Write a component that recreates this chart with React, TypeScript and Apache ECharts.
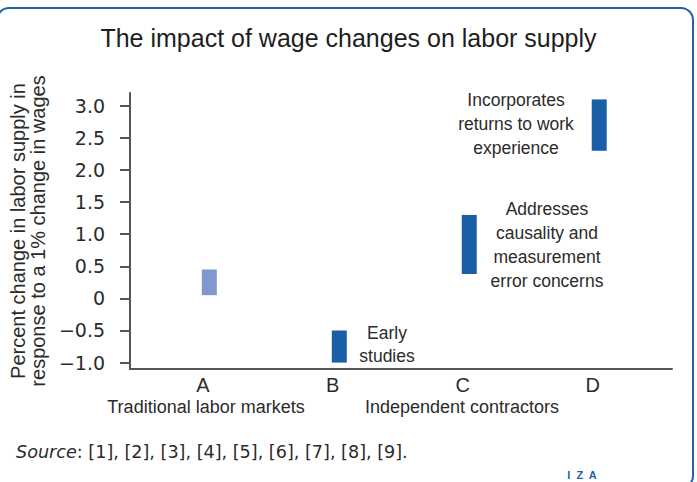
import React, { useEffect, useRef } from "react";
import * as echarts from "echarts";

const categories = ["A", "B", "C", "D"];
const lowValues = [0.05, -1.0, 0.38, 2.3];
const highValues = [0.45, -0.5, 1.3, 3.1];
const yTicks = [-1.0, -0.5, 0, 0.5, 1.0, 1.5, 2.0, 2.5, 3.0];
const groupLabels = ["Traditional labor markets", "Independent contractors"];
const notes = [
  "Early\nstudies",
  "Addresses\ncausality and\nmeasurement\nerror concerns",
  "Incorporates\nreturns to work\nexperience",
];

const FONT = "Liberation Sans";
const WIDE = "DejaVu Sans";
const LIGHT = "#7f98cf";
const DARK = "#1a5ea8";
const TEXT = "#2b2b2b";

export default function App() {
  const ref = useRef<HTMLDivElement>(null);
  useEffect(() => {
    if (!ref.current) return;
    const chart = echarts.init(ref.current, null, { renderer: "svg" });
    const data = categories.map((c, i) => [i + 1, lowValues[i], highValues[i]]);
    chart.setOption({
      animation: false,
      textStyle: { fontFamily: FONT },
      title: {
        text: "The impact of wage changes on labor supply",
        left: "center",
        top: 20,
        textStyle: { fontFamily: FONT, fontSize: 25, fontWeight: "normal", color: "#1e1e1e" },
      },
      grid: { left: 129, top: 93, right: 25, bottom: 113 },
      xAxis: {
        type: "value",
        min: 0.44,
        max: 4.61,
        splitLine: { show: false },
        axisLine: { show: true, onZero: false, lineStyle: { color: "#555", width: 2 } },
        axisTick: { show: false },
        axisLabel: {
          customValues: [1, 2, 3, 4],
          formatter: (v: number) => categories[Math.round(v) - 1] ?? "",
          fontFamily: FONT,
          fontSize: 20,
          color: TEXT,
          margin: 6,
        },
      },
      yAxis: {
        type: "value",
        min: -1.1,
        max: 3.2,
        splitLine: { show: false },
        name: "Percent change in labor supply in\nresponse to a 1% change in wages",
        nameLocation: "middle",
        nameGap: 77,
        nameRotate: 90,
        nameTextStyle: { fontFamily: FONT, fontSize: 20, color: TEXT, lineHeight: 20 },
        axisLine: { show: true, onZero: false, lineStyle: { color: "#555", width: 2 } },
        axisTick: { show: true, customValues: yTicks, length: 10, lineStyle: { color: "#555", width: 2 } },
        axisLabel: {
          customValues: yTicks,
          formatter: (v: number) => (Math.abs(v) < 1e-9 ? "0" : v.toFixed(1).replace("-", "\u2212")),
          fontFamily: WIDE,
          fontSize: 19,
          color: TEXT,
          margin: 25,
        },
      },
      series: [
        {
          type: "custom",
          data,
          renderItem: (params: any, api: any) => {
            const x = api.value(0);
            const top = api.coord([x, api.value(2)]);
            const bot = api.coord([x, api.value(1)]);
            return {
              type: "rect",
              shape: { x: top[0] - 1, y: top[1], width: 15, height: bot[1] - top[1] },
              style: { fill: params.dataIndex === 0 ? LIGHT : DARK },
            };
          },
        },
      ],
      graphic: [
        {
          type: "rect",
          shape: { x: -3, y: 8, width: 696, height: 480, r: 12 },
          style: { fill: "none", stroke: "#1f63ad", lineWidth: 2 },
          silent: true,
        },
        {
          type: "text",
          x: 206,
          y: 407,
          style: { text: groupLabels[0], fontFamily: FONT, fontSize: 18, fill: TEXT, align: "center", verticalAlign: "middle" },
        },
        {
          type: "text",
          x: 462,
          y: 407,
          style: { text: groupLabels[1], fontFamily: FONT, fontSize: 18, fill: TEXT, align: "center", verticalAlign: "middle" },
        },
        {
          type: "text",
          x: 387,
          y: 344,
          style: { text: notes[0], fontFamily: FONT, fontSize: 17.5, lineHeight: 23, fill: TEXT, align: "center", verticalAlign: "middle" },
        },
        {
          type: "text",
          x: 547,
          y: 245,
          style: { text: notes[1], fontFamily: FONT, fontSize: 17.5, lineHeight: 24, fill: TEXT, align: "center", verticalAlign: "middle" },
        },
        {
          type: "text",
          x: 516,
          y: 124,
          style: { text: notes[2], fontFamily: FONT, fontSize: 17.5, lineHeight: 24, fill: TEXT, align: "center", verticalAlign: "middle" },
        },
        {
          type: "text",
          x: 16,
          y: 452,
          style: {
            text: "{i|Source}: [1], [2], [3], [4], [5], [6], [7], [8], [9].",
            fontFamily: WIDE,
            fontSize: 17.6,
            fill: TEXT,
            verticalAlign: "middle",
            rich: { i: { fontStyle: "italic", fontFamily: WIDE, fontSize: 17.6, fill: TEXT } },
          },
        },
        {
          type: "text",
          x: 582,
          y: 475,
          style: { text: "I  Z  A", fontFamily: FONT, fontSize: 11, fontWeight: "bold", fill: "#1f63ad", align: "center", verticalAlign: "middle" },
        },
      ],
    });
    return () => chart.dispose();
  }, []);
  return <div ref={ref} style={{ position: "fixed", left: 0, top: 0, width: 697, height: 482, background: "#fff" }} />;
}
